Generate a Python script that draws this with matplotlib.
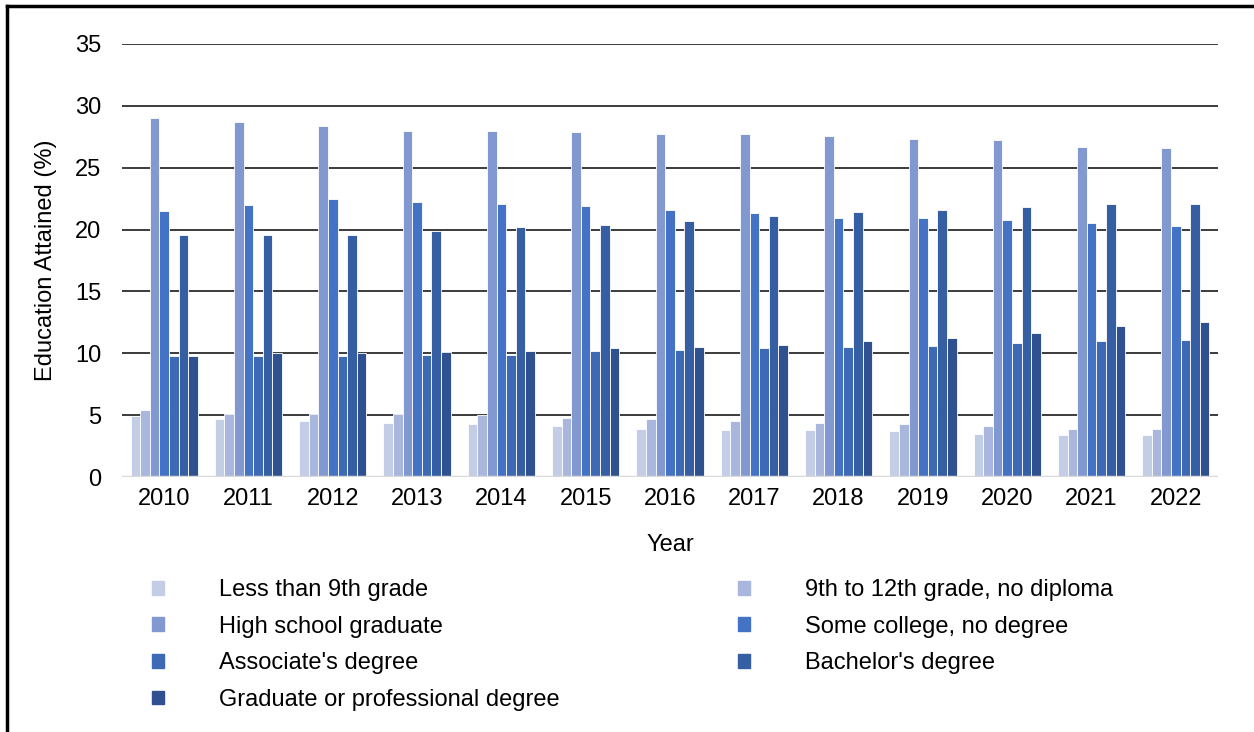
import matplotlib
matplotlib.use("Agg")
import matplotlib.pyplot as plt
import numpy as np
from matplotlib.lines import Line2D
from matplotlib.patches import Patch

plt.rcParams["font.family"] = ["Liberation Sans", "DejaVu Sans"]

years = ["2010", "2011", "2012", "2013", "2014", "2015", "2016",
         "2017", "2018", "2019", "2020", "2021", "2022"]

# educational attainment shares (%) by year
less_9th = [4.9, 4.7, 4.5, 4.4, 4.3, 4.1, 3.9, 3.8, 3.8, 3.7, 3.5, 3.4, 3.4]
grade_9_12 = [5.4, 5.1, 5.1, 5.1, 5.0, 4.8, 4.7, 4.5, 4.4, 4.3, 4.1, 3.9, 3.9]
high_school = [29.0, 28.7, 28.4, 28.0, 28.0, 27.9, 27.7, 27.7, 27.6, 27.3, 27.2, 26.7, 26.6]
some_college = [21.5, 22.0, 22.5, 22.2, 22.1, 21.9, 21.6, 21.3, 20.9, 20.9, 20.8, 20.5, 20.3]
associate = [9.8, 9.8, 9.8, 9.9, 9.9, 10.2, 10.3, 10.4, 10.5, 10.6, 10.8, 11.0, 11.1]
bachelor = [19.6, 19.6, 19.6, 19.9, 20.2, 20.4, 20.7, 21.1, 21.4, 21.6, 21.8, 22.1, 22.1]
graduate = [9.8, 10.0, 10.0, 10.1, 10.2, 10.4, 10.5, 10.7, 11.0, 11.2, 11.6, 12.2, 12.5]

labels = ["Less than 9th grade", "9th to 12th grade, no diploma",
          "High school graduate", "Some college, no degree",
          "Associate's degree", "Bachelor's degree",
          "Graduate or professional degree"]
series = [less_9th, grade_9_12, high_school, some_college,
          associate, bachelor, graduate]
colors = ["#C3CDE6", "#A9B6DD", "#8198D1", "#4472C4",
          "#3D69B5", "#355EA3", "#2F5190"]

FS = 17

fig = plt.figure(figsize=(12.54, 7.32), dpi=100)
ax = fig.add_axes([122 / 1254, 1 - 477 / 732, (1218 - 122) / 1254, (477 - 44) / 732])

x = np.arange(len(years))
n = len(series)
w = 0.114
for i, (vals, c) in enumerate(zip(series, colors)):
    ax.bar(x + (i - (n - 1) / 2) * w, vals, w, color=c, edgecolor="white",
           linewidth=0.6, zorder=3, label=labels[i])

ax.set_xlim(-0.5, len(years) - 0.5)
ax.set_ylim(0, 35)
ax.set_yticks(range(0, 36, 5))
ax.set_xticks(x)
ax.set_xticklabels(years)
for s in ax.spines.values():
    s.set_visible(False)
ax.grid(axis="y", color="#1a1a1a", linewidth=1.2, zorder=0)
ax.axhline(0, color="#D9D9D9", linewidth=2.5, zorder=4)
ax.tick_params(axis="y", length=0, pad=15, labelsize=FS)
ax.tick_params(axis="x", length=0, pad=8, labelsize=FS)
ax.set_xlabel("Year", fontsize=FS, labelpad=17)
ax.set_ylabel("Education Attained (%)", fontsize=FS, labelpad=13)

# legend: two columns placed separately so the row order reads left-to-right
col1 = [0, 2, 4, 6]
col2 = [1, 3, 5]
kw = dict(frameon=False, fontsize=FS, handlelength=0.52, handleheight=0.52,
          handletextpad=2.3, labelspacing=0.62, borderaxespad=0, borderpad=0,
          loc="upper left")
h1 = [Patch(color=colors[i], label=labels[i]) for i in col1]
h2 = [Patch(color=colors[i], label=labels[i]) for i in col2]
fig.legend(handles=h1, bbox_to_anchor=(152 / 1254, 1 - 579 / 732), **kw)
fig.legend(handles=h2, bbox_to_anchor=(738 / 1254, 1 - 579 / 732), **kw)

# frame edges along the top and left
fig.add_artist(Line2D([7 / 1254, 7 / 1254], [0, 1 - 6 / 732],
                      transform=fig.transFigure, color="black", linewidth=2.5))
fig.add_artist(Line2D([7 / 1254, 1], [1 - 6 / 732, 1 - 6 / 732],
                      transform=fig.transFigure, color="black", linewidth=2.5))

fig.savefig("out.png", dpi=100)
